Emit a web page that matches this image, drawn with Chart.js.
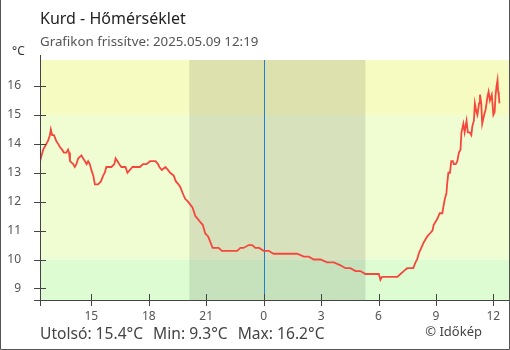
<!DOCTYPE html>
<html>
<head>
<meta charset="utf-8">
<script src="https://cdn.jsdelivr.net/npm/chart.js@4.4.1/dist/chart.umd.min.js"></script>
<style>
  html, body { margin: 0; padding: 0; background: #fff; }
  #wrap { width: 510px; height: 350px; }
</style>
</head>
<body>
<div id="wrap"><canvas id="tempChart" width="510" height="350"></canvas></div>
<script>
const stationName = 'Kurd';
const updatedAt = '2025.05.09 12:19';

// minutes relative to today's midnight (negative = yesterday)
const times = [
  -701, -696, -691, -686, -681, -676, -670, -667, -663, -657,
  -650, -644, -639, -632, -626, -618, -613, -610, -607, -597,
  -592, -587, -581, -571, -566, -560, -555, -550, -545, -540,
  -534, -529, -524, -519, -510, -503, -498, -493, -485, -477,
  -468, -464, -458, -453, -446, -440, -433, -427, -419, -411,
  -404, -395, -388, -378, -367, -356, -346, -339, -331, -327,
  -319, -308, -300, -293, -282, -275, -267, -261, -254, -246,
  -237, -230, -223, -214, -206, -199, -191, -183, -174, -167,
  -160, -152, -141, -131, -115, -99, -83, -73, -63, -47,
  -36, -26, -14, 0, 16, 31, 42, 63, 84, 105,
  126, 141, 157, 178, 199, 220, 241, 256, 272, 288,
  303, 319, 335, 345, 354, 361, 366, 371, 377, 387,
  398, 410, 419, 429, 439, 450, 460, 469, 476, 481,
  486, 494, 502, 513, 521, 529, 533, 544, 552, 560,
  563, 568, 573, 575, 579, 584, 588, 593, 596, 602,
  607, 612, 617, 620, 626, 630, 633, 636, 640, 646,
  651, 654, 659, 662, 667, 670, 675, 678, 682, 685,
  691, 696, 701, 705, 709, 715, 720, 724, 727, 730,
  733, 735, 737, 739
];
const temps = [
  13.4, 13.6, 13.8, 13.9, 14.0, 14.1, 14.3, 14.5, 14.3, 14.3,
  14.1, 14.0, 13.9, 13.8, 13.7, 13.7, 13.8, 13.7, 13.4, 13.3,
  13.2, 13.3, 13.5, 13.6, 13.5, 13.4, 13.3, 13.4, 13.3, 13.1,
  12.9, 12.6, 12.6, 12.6, 12.7, 12.9, 13.0, 13.2, 13.2, 13.2,
  13.3, 13.5, 13.4, 13.3, 13.2, 13.2, 13.2, 13.0, 13.1, 13.2,
  13.2, 13.2, 13.2, 13.3, 13.3, 13.4, 13.4, 13.4, 13.3, 13.2,
  13.1, 13.2, 13.1, 13.0, 12.9, 12.7, 12.6, 12.5, 12.3, 12.1,
  12.0, 11.9, 11.8, 11.5, 11.4, 11.3, 11.2, 10.9, 10.8, 10.6,
  10.4, 10.4, 10.4, 10.3, 10.3, 10.3, 10.3, 10.4, 10.4, 10.5,
  10.5, 10.4, 10.4, 10.3, 10.3, 10.2, 10.2, 10.2, 10.2, 10.2,
  10.1, 10.1, 10.0, 10.0, 9.9, 9.9, 9.8, 9.7, 9.7, 9.6,
  9.6, 9.5, 9.5, 9.5, 9.5, 9.5, 9.3, 9.4, 9.4, 9.4,
  9.4, 9.4, 9.4, 9.5, 9.6, 9.7, 9.7, 9.7, 9.9, 10.0,
  10.2, 10.4, 10.6, 10.8, 10.9, 11.0, 11.2, 11.4, 11.6, 11.6,
  11.8, 12.1, 12.3, 12.6, 13.0, 13.0, 13.4, 13.4, 13.3, 13.3,
  13.4, 13.7, 13.8, 14.4, 14.7, 14.4, 14.6, 14.8, 14.4, 14.4,
  14.3, 14.6, 14.8, 15.4, 15.1, 15.0, 15.4, 15.7, 15.4, 14.7,
  15.0, 15.2, 15.6, 15.8, 15.5, 15.7, 15.0, 15.1, 15.7, 16.0,
  16.2, 15.8, 15.7, 15.4
];

const hourTicks = [-540, -360, -180, 0, 180, 360, 540, 720];
const degreeTicks = [9, 10, 11, 12, 13, 14, 15, 16];
const windowStart = -701, windowEnd = 769;
const sunset = -233, sunrise = 319;

const lastTemp = temps[temps.length - 1];
const minTemp = Math.min(...temps);
const maxTemp = Math.max(...temps);

const bands = [
  { from: 15, to: 100, color: '#f6fbc1' },
  { from: 10, to: 15, color: '#f0fcd2' },
  { from: -100, to: 10, color: '#ddfcd2' }
];

const FONT = '"Noto Sans", "Open Sans", sans-serif';

const backdrop = {
  id: 'backdrop',
  beforeDatasetsDraw(chart) {
    const { ctx, chartArea: a, scales: { x, y } } = chart;
    ctx.save();
    ctx.beginPath();
    ctx.rect(a.left, a.top, a.width, a.height);
    ctx.clip();
    bands.forEach(b => {
      const top = y.getPixelForValue(b.to), bottom = y.getPixelForValue(b.from);
      ctx.fillStyle = b.color;
      ctx.fillRect(a.left, top, a.width, bottom - top);
    });
    // night
    const n1 = x.getPixelForValue(sunset), n2 = x.getPixelForValue(sunrise);
    ctx.fillStyle = 'rgba(0,0,0,0.1)';
    ctx.fillRect(n1, a.top, n2 - n1, a.height);
    // midnight
    const mx = Math.round(x.getPixelForValue(0)) + 0.5;
    ctx.strokeStyle = '#1f80d0';
    ctx.lineWidth = 1;
    ctx.beginPath();
    ctx.moveTo(mx, a.top);
    ctx.lineTo(mx, a.bottom);
    ctx.stroke();
    ctx.restore();
  },
  afterDraw(chart) {
    const { ctx, chartArea: a, scales: { x, y } } = chart;
    ctx.save();
    ctx.strokeStyle = '#444';
    ctx.lineWidth = 1;
    ctx.beginPath();
    const ax = a.left + 0.5, ay = Math.round(a.bottom) + 0.5;
    ctx.moveTo(ax, a.top - 5);
    ctx.lineTo(ax, a.bottom + 6);
    ctx.moveTo(a.left - 6, ay);
    ctx.lineTo(a.right, ay);
    degreeTicks.forEach(v => {
      const py = Math.round(y.getPixelForValue(v)) + 0.5;
      ctx.moveTo(a.left - 6, py);
      ctx.lineTo(a.left + 6, py);
    });
    hourTicks.forEach(v => {
      const px = Math.round(x.getPixelForValue(v)) + 0.5;
      ctx.moveTo(px, a.bottom - 6);
      ctx.lineTo(px, a.bottom + 6);
    });
    ctx.stroke();

    // frame
    ctx.strokeStyle = '#555';
    ctx.beginPath();
    ctx.moveTo(0.5, 0);
    ctx.lineTo(0.5, 349.5);
    ctx.lineTo(509.5, 349.5);
    ctx.lineTo(509.5, 0);
    ctx.stroke();

    // texts
    ctx.textBaseline = 'alphabetic';
    ctx.textAlign = 'left';
    ctx.fillStyle = '#222';
    ctx.font = '16px ' + FONT;
    ctx.fillText(stationName + ' - Hőmérséklet', 40, 24);
    ctx.fillStyle = '#555';
    ctx.font = '13.3px ' + FONT;
    ctx.fillText('Grafikon frissítve: ' + updatedAt, 40, 46);
    ctx.fillStyle = '#333';
    ctx.font = '12px ' + FONT;
    ctx.fillText('°C', 12, 55);

    ctx.fillStyle = '#444';
    ctx.font = '15.6px ' + FONT;
    const parts = [
      'Utolsó: ' + lastTemp.toFixed(1) + '°C',
      'Min: ' + minTemp.toFixed(1) + '°C',
      'Max: ' + maxTemp.toFixed(1) + '°C'
    ];
    let tx = 40;
    parts.forEach(p => {
      ctx.fillText(p, tx, 339);
      tx += ctx.measureText(p).width + 10;
    });
    ctx.font = '13px ' + FONT;
    ctx.textAlign = 'right';
    ctx.fillText('© Időkép', 482, 336);
    ctx.restore();
  }
};

new Chart(document.getElementById('tempChart'), {
  type: 'line',
  data: {
    datasets: [{
      data: times.map((t, i) => ({ x: t, y: temps[i] })),
      borderColor: '#f5473d',
      borderWidth: 1.8,
      pointRadius: 0,
      tension: 0,
      fill: false
    }]
  },
  options: {
    responsive: false,
    animation: false,
    layout: { padding: { top: 60, right: 1, left: 0, bottom: 0 } },
    plugins: {
      legend: { display: false },
      tooltip: { enabled: false }
    },
    scales: {
      x: {
        type: 'linear',
        min: windowStart,
        max: windowEnd,
        afterBuildTicks: s => { s.ticks = hourTicks.map(v => ({ value: v })); },
        afterFit: s => { s.height = 50; },
        grid: { display: false, drawTicks: false },
        border: { display: false },
        ticks: {
          padding: 9,
          maxRotation: 0,
          autoSkip: false,
          color: '#555',
          font: { family: FONT, size: 12 },
          callback: v => String(((v / 60) % 24 + 24) % 24)
        }
      },
      y: {
        min: minTemp - 0.7,
        max: maxTemp + 0.7,
        afterBuildTicks: s => { s.ticks = degreeTicks.map(v => ({ value: v })); },
        afterFit: s => { s.width = 40; },
        grid: { display: false, drawTicks: false },
        border: { display: false },
        ticks: {
          padding: 19,
          color: '#555',
          font: { family: FONT, size: 12 }
        }
      }
    }
  },
  plugins: [backdrop]
});
</script>
</body>
</html>
